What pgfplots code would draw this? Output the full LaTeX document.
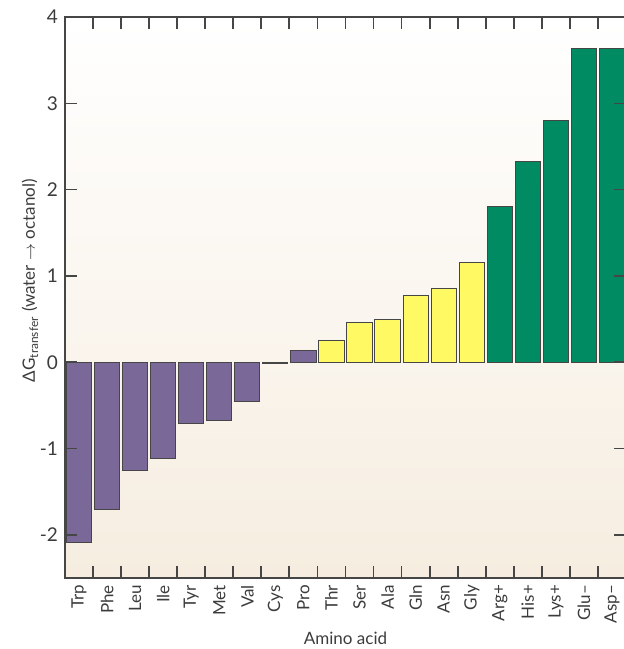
\documentclass[border=0pt]{standalone}
\usepackage{pgfplots}
\pgfplotsset{compat=1.18}
\usetikzlibrary{calc}
\usepackage{fontspec}
\setmainfont{Lato}
\definecolor{barpurple}{RGB}{122,104,152}
\definecolor{baryellow}{RGB}{255,250,100}
\definecolor{bargreen}{RGB}{0,139,98}
\definecolor{axgray}{RGB}{70,70,70}
\definecolor{txtgray}{RGB}{60,60,60}
\definecolor{bgbeige}{RGB}{246,237,224}
\begin{document}
\begin{tikzpicture}
\useasboundingbox (-32.5pt,-35.5pt) rectangle (279pt,289pt);
\begin{axis}[
  scale only axis, width=280.5pt, height=280.5pt,
  xmin=-0.5, xmax=19.5, ymin=-2.5, ymax=4,
  axis on top, clip=false,
  axis background/.style={shade, top color=white, bottom color=bgbeige},
  xtick={0,1,...,19},
  xticklabels={Trp,Phe,Leu,Ile,Tyr,Met,Val,Cys,Pro,Thr,Ser,Ala,Gln,Asn,Gly,Arg+,His+,Lys+,Glu–,Asp–},
  xticklabel style={rotate=90, anchor=east},
  xtick style={draw=none},
  ytick={-2,-1,0,1,2,3,4},
  ytick pos=both,
  major tick length=5.8pt,
  axis line style={axgray, line width=0.8pt},
  ytick style={draw=axgray, line width=0.8pt},
  ticklabel style={font=\fontsize{8.5}{10}\selectfont, text=txtgray},
  yticklabel style={font=\fontsize{9.5}{11}\selectfont},
  /pgf/number format/assume math mode=true,
  xlabel={Amino acid},
  ylabel={ΔG\textsubscript{transfer} (water $\rightarrow$ octanol)},
  every axis x label/.append style={at={(axis description cs:0.5,-0.107)}, anchor=center, font=\fontsize{8.5}{10}\selectfont, text=txtgray},
  every axis y label/.append style={at={(axis description cs:-0.0625,0.53)}, anchor=center, font=\fontsize{8.5}{10}\selectfont, text=txtgray},
  after end axis/.append code={
    \foreach \b in {0.5,1.5,2.5,3.5,4.5,5.5,6.5,7.5,8.5,9.5,10.5,11.5,12.5,13.5,14.5,15.5,16.5,17.5,18.5}{
      \draw[axgray, line width=0.9pt] (axis cs:\b,-2.5) -- ($(axis cs:\b,-2.5)+(0pt,6pt)$);
      \draw[axgray, line width=0.9pt] (axis cs:\b,4) -- ($(axis cs:\b,4)+(0pt,-6pt)$);
    }
  },
]
\addplot[ybar, bar width=0.9, bar shift=0pt, fill=barpurple, draw=axgray, line width=0.5pt]
  coordinates {(0,-2.09) (1,-1.71) (2,-1.25) (3,-1.12) (4,-0.71) (5,-0.67) (6,-0.46) (7,-0.02) (8,0.14)};
\addplot[ybar, bar width=0.9, bar shift=0pt, fill=baryellow, draw=axgray, line width=0.5pt]
  coordinates {(9,0.25) (10,0.46) (11,0.50) (12,0.77) (13,0.85) (14,1.15)};
\addplot[ybar, bar width=0.9, bar shift=0pt, fill=bargreen, draw=axgray, line width=0.5pt]
  coordinates {(15,1.81) (16,2.33) (17,2.80) (18,3.63) (19,3.64)};
\end{axis}
\end{tikzpicture}
\end{document}
